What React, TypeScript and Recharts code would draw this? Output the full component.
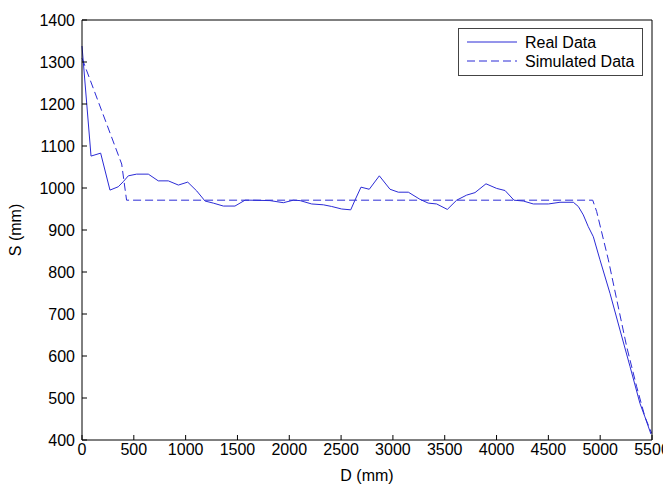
import React from "react";
import { LineChart, Line, XAxis, YAxis } from "recharts";

const realD = [
  0, 87, 180, 270, 350, 398, 447, 527, 640, 736, 833, 930, 1020, 1107, 1187,
  1267, 1364, 1476, 1573, 1621, 1814, 1943, 2039, 2104, 2216, 2329, 2409, 2506,
  2593, 2634, 2692, 2772, 2869, 2972, 3052, 3149, 3261, 3341, 3422, 3525, 3615,
  3711, 3792, 3898, 4001, 4082, 4168, 4258, 4355, 4500, 4612, 4741, 4789, 4837,
  4885, 4934, 4998, 5095, 5191, 5288, 5384, 5432, 5490,
];
const realS = [
  1338, 1076, 1083, 995, 1003, 1015, 1029, 1033, 1033, 1017, 1017, 1007, 1014,
  993, 969, 964, 957, 957, 971, 971, 970, 965, 971, 970, 962, 960, 956, 950,
  948, 971, 1002, 997, 1029, 997, 990, 990, 973, 964, 962, 949, 971, 983, 989,
  1010, 999, 994, 971, 969, 962, 962, 966, 966, 956, 936, 908, 884, 829, 749,
  662, 575, 487, 455, 414,
];

const simD = [0, 383, 430, 4928, 4966, 5079, 5159, 5256, 5352, 5432, 5497];
const simS = [1309, 1057, 971, 971, 944, 829, 735, 622, 527, 455, 416];

const xTicks = [0, 500, 1000, 1500, 2000, 2500, 3000, 3500, 4000, 4500, 5000, 5500];
const yTicks = [400, 500, 600, 700, 800, 900, 1000, 1100, 1200, 1300, 1400];

const realData = realD.map((d, i) => ({ d, s: realS[i] }));
const simData = simD.map((d, i) => ({ d, s: simS[i] }));

const lineColor = "#2b2bd6";
const font = "'Liberation Sans', Arial, sans-serif";
const tickStyle = { fill: "#000", fontSize: 16, fontFamily: font };

const YLabel = (props: any) => {
  const vb = props.viewBox;
  const cx = 13;
  const cy = vb.y + vb.height / 2;
  return (
    <text
      x={cx}
      y={cy}
      transform={`rotate(-90 ${cx} ${cy})`}
      textAnchor="middle"
      fontSize={16}
      fontFamily={font}
      fill="#000"
    >
      S (mm)
    </text>
  );
};

function ChartLegend() {
  return (
    <div
      style={{
        position: "absolute",
        left: 450,
        top: 20,
        width: 185,
        height: 48,
        border: "1px solid #444",
        background: "#fff",
        boxSizing: "border-box",
      }}
    >
      <svg width={185} height={48} style={{ position: "absolute", left: -1, top: -1 }}>
        <line x1={9} x2={59} y1={14} y2={14} stroke={lineColor} strokeWidth={1} />
        <line
          x1={9}
          x2={59}
          y1={33}
          y2={33}
          stroke={lineColor}
          strokeWidth={1}
          strokeDasharray="8 4"
        />
        <text x={67} y={14} dominantBaseline="central" fontSize={16} fontFamily={font}>
          Real Data
        </text>
        <text x={67} y={33} dominantBaseline="central" fontSize={16} fontFamily={font}>
          Simulated Data
        </text>
      </svg>
    </div>
  );
}

export default function App() {
  return (
    <div style={{ position: "relative", width: 663, height: 476 }}>
      <style>{`.recharts-surface { overflow: visible; }`}</style>
      <LineChart
        width={663}
        height={476}
        margin={{ top: 11, right: 18, bottom: 0, left: 0 }}
      >
        <XAxis
          dataKey="d"
          type="number"
          domain={[0, 5500]}
          ticks={xTicks}
          height={44}
          tickSize={-5}
          tickMargin={9}
          tick={tickStyle}
          stroke="#000"
          label={{
            value: "D (mm)",
            position: "insideBottom",
            offset: 3,
            style: { fill: "#000", fontSize: 16, fontFamily: font },
          }}
        />
        <XAxis
          xAxisId="top"
          orientation="top"
          dataKey="d"
          type="number"
          domain={[0, 5500]}
          ticks={xTicks}
          height={1}
          tickSize={-5}
          tickFormatter={() => ""}
          stroke="#000"
        />
        <YAxis
          type="number"
          domain={[400, 1400]}
          ticks={yTicks}
          width={74}
          tickSize={-5}
          tickMargin={12}
          tick={tickStyle}
          stroke="#000"
          label={<YLabel />}
        />
        <YAxis
          yAxisId="right"
          orientation="right"
          type="number"
          domain={[400, 1400]}
          ticks={yTicks}
          width={1}
          tickSize={-5}
          tickFormatter={() => ""}
          stroke="#000"
        />
        <Line
          data={realData}
          dataKey="s"
          stroke={lineColor}
          strokeWidth={1}
          dot={false}
          activeDot={false}
          isAnimationActive={false}
        />
        <Line
          data={simData}
          dataKey="s"
          stroke={lineColor}
          strokeWidth={1}
          strokeDasharray="8 4"
          dot={false}
          activeDot={false}
          isAnimationActive={false}
        />
      </LineChart>
      <ChartLegend />
    </div>
  );
}
